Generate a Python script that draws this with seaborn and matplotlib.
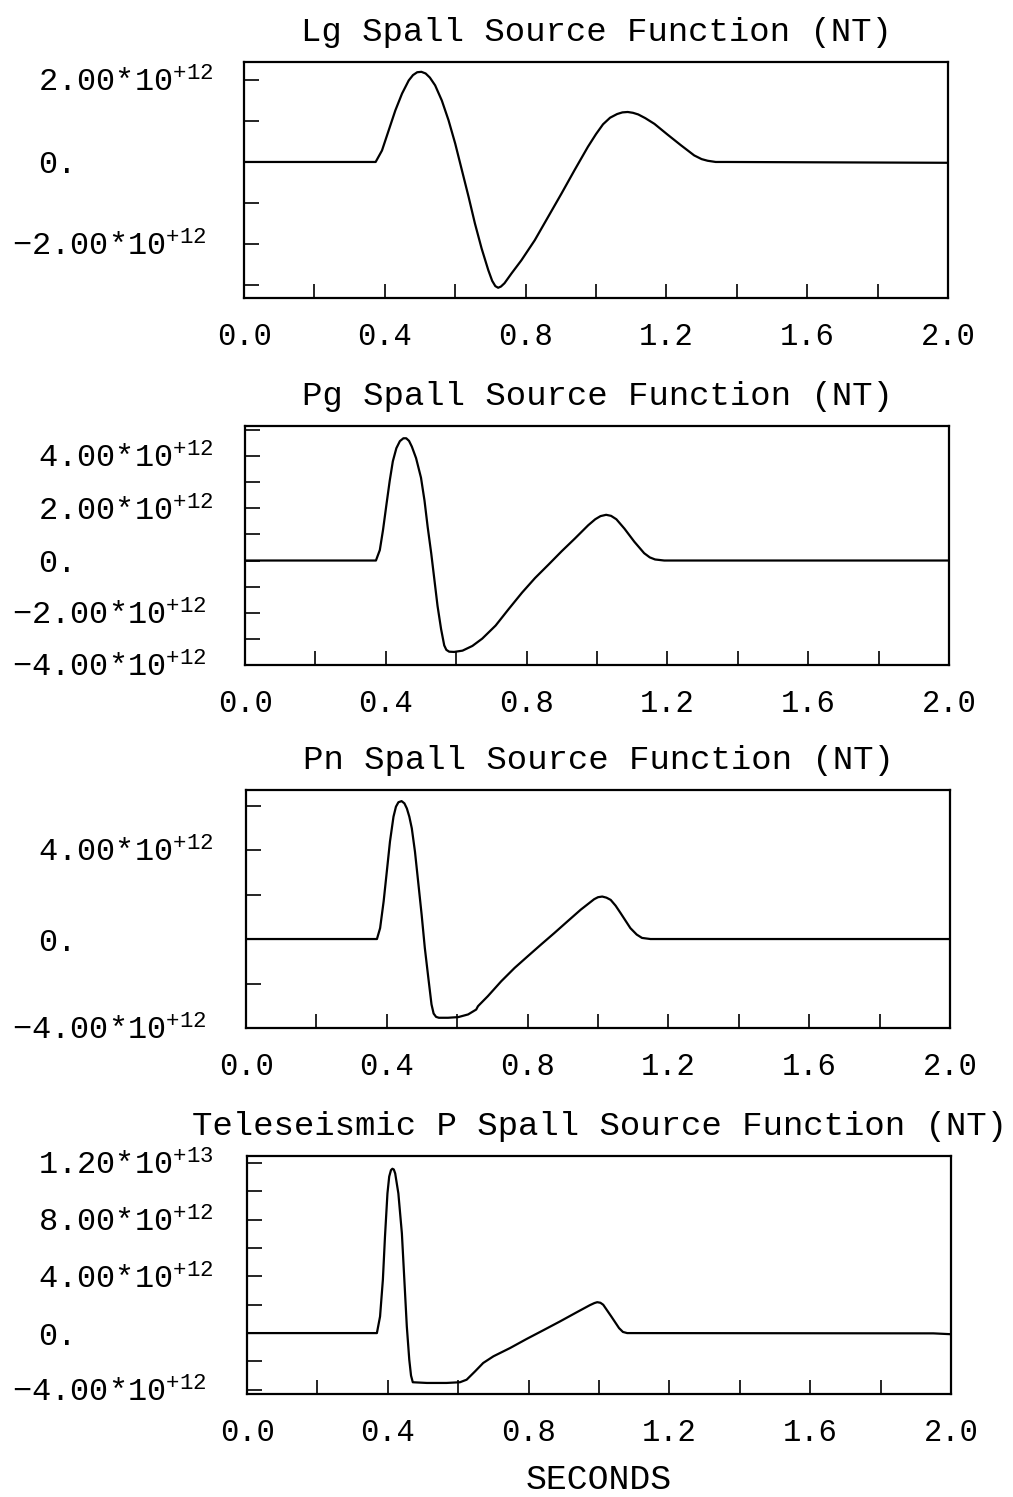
import numpy as np
import matplotlib
matplotlib.use("Agg")
import matplotlib.pyplot as plt
import seaborn as sns

# time axis values (seconds) and amplitudes (units of 1e12)
lg_t = [0.0, 0.374, 0.392, 0.411, 0.430, 0.449, 0.468, 0.480, 0.492, 0.504, 0.516, 0.528,
        0.543, 0.562, 0.581, 0.600, 0.619, 0.638, 0.656, 0.675, 0.694, 0.705, 0.714, 0.722,
        0.730, 0.740, 0.760, 0.788, 0.826, 0.864, 0.902, 0.939, 0.977, 1.000, 1.020, 1.040,
        1.060, 1.075, 1.090, 1.105, 1.120, 1.140, 1.166, 1.203, 1.241, 1.279, 1.300, 1.317,
        1.340, 1.370, 2.0]
lg_amp = [0.0, 0.0, 0.28, 0.77, 1.26, 1.67, 1.99, 2.12, 2.19, 2.20, 2.16, 2.06,
          1.87, 1.50, 1.02, 0.45, -0.20, -0.85, -1.50, -2.11, -2.64, -2.90, -3.03, -3.07,
          -3.04, -2.96, -2.72, -2.40, -1.91, -1.34, -0.77, -0.20, 0.37, 0.68, 0.92, 1.08,
          1.17, 1.21, 1.22, 1.20, 1.16, 1.07, 0.93, 0.67, 0.41, 0.16, 0.07, 0.03,
          0.0, 0.0, -0.02]

pg_t = [0.0, 0.372, 0.383, 0.392, 0.402, 0.411, 0.420, 0.430, 0.440, 0.450, 0.458, 0.466,
        0.474, 0.486, 0.500, 0.510, 0.519, 0.529, 0.538, 0.547, 0.557, 0.566, 0.572, 0.580,
        0.594, 0.618, 0.646, 0.674, 0.712, 0.749, 0.787, 0.824, 0.862, 0.900, 0.937, 0.975,
        0.995, 1.010, 1.026, 1.040, 1.055, 1.078, 1.106, 1.134, 1.150, 1.165, 1.191, 2.0]
pg_amp = [0.0, 0.0, 0.40, 1.16, 2.16, 3.04, 3.80, 4.30, 4.57, 4.68, 4.68, 4.58,
          4.36, 3.92, 3.17, 2.29, 1.28, 0.28, -0.73, -1.74, -2.62, -3.25, -3.42, -3.49,
          -3.50, -3.45, -3.27, -2.99, -2.49, -1.86, -1.23, -0.67, -0.16, 0.36, 0.84, 1.35,
          1.58, 1.70, 1.75, 1.71, 1.58, 1.22, 0.72, 0.28, 0.12, 0.04, 0.0, 0.0]

pn_t = [0.0, 0.372, 0.381, 0.391, 0.400, 0.409, 0.419, 0.426, 0.433, 0.442, 0.450, 0.457,
        0.464, 0.471, 0.480, 0.489, 0.499, 0.508, 0.518, 0.527, 0.533, 0.540, 0.548, 0.574,
        0.603, 0.631, 0.654, 0.659, 0.687, 0.725, 0.763, 0.800, 0.838, 0.876, 0.913, 0.951,
        0.989, 1.000, 1.012, 1.024, 1.036, 1.050, 1.064, 1.092, 1.110, 1.125, 1.149, 2.0]
pn_amp = [0.0, 0.0, 0.49, 1.69, 3.03, 4.38, 5.50, 5.95, 6.15, 6.20, 6.10, 5.87,
          5.50, 4.98, 3.93, 2.59, 1.09, -0.40, -1.75, -2.94, -3.35, -3.50, -3.54, -3.54,
          -3.51, -3.39, -3.17, -3.02, -2.57, -1.90, -1.30, -0.78, -0.25, 0.27, 0.79, 1.32,
          1.79, 1.88, 1.91, 1.86, 1.76, 1.50, 1.17, 0.49, 0.20, 0.05, 0.0, 0.0]

tp_t = [0.0, 0.369, 0.378, 0.386, 0.392, 0.399, 0.404, 0.409, 0.413, 0.417, 0.421, 0.430,
        0.440, 0.447, 0.454, 0.461, 0.466, 0.471, 0.511, 0.567, 0.605, 0.624, 0.648, 0.671,
        0.700, 0.747, 0.794, 0.841, 0.889, 0.936, 0.974, 0.987, 0.995, 1.004, 1.012, 1.035,
        1.057, 1.068, 1.080, 1.95, 2.0]
tp_amp = [0.0, 0.0, 1.17, 3.76, 6.81, 9.86, 11.05, 11.50, 11.60, 11.55, 11.27, 9.86,
          7.04, 3.76, 0.47, -1.88, -3.00, -3.47, -3.52, -3.52, -3.47, -3.29, -2.70, -2.11,
          -1.64, -1.06, -0.42, 0.19, 0.82, 1.46, 1.97, 2.12, 2.18, 2.14, 2.00, 1.17,
          0.35, 0.08, 0.0, -0.02, -0.08]

titles = ["Lg Spall Source Function (NT)", "Pg Spall Source Function (NT)",
          "Pn Spall Source Function (NT)", "Teleseismic P Spall Source Function (NT)"]

# y ticks (1e12 units) and which of them carry a label
lg_yticks = [-3, -2, -1, 0, 1, 2]
lg_ylabels = ["", "−2.00*10$^{+12}$", "", "0.", "", "2.00*10$^{+12}$"]
pg_yticks = [-4, -3, -2, -1, 0, 1, 2, 3, 4, 5]
pg_ylabels = ["−4.00*10$^{+12}$", "", "−2.00*10$^{+12}$", "", "0.", "", "2.00*10$^{+12}$", "",
              "4.00*10$^{+12}$", ""]
pn_yticks = [-4, -2, 0, 2, 4, 6]
pn_ylabels = ["−4.00*10$^{+12}$", "", "0.", "", "4.00*10$^{+12}$", ""]
tp_yticks = [-4, -2, 0, 2, 4, 6, 8, 10, 12]
tp_ylabels = ["−4.00*10$^{+12}$", "", "0.", "", "4.00*10$^{+12}$", "", "8.00*10$^{+12}$", "",
              "1.20*10$^{+13}$"]

ylims = [(-3.32, 2.44), (-4.0, 5.15), (-4.0, 6.7), (-4.3, 12.5)]

xticks = [0.0, 0.2, 0.4, 0.6, 0.8, 1.0, 1.2, 1.4, 1.6, 1.8, 2.0]
xlabels = ["0.0", "", "0.4", "", "0.8", "", "1.2", "", "1.6", "", "2.0"]

sns.set_theme(style="ticks")
plt.rcParams["font.family"] = ["Liberation Mono", "DejaVu Sans Mono"]
plt.rcParams["mathtext.fontset"] = "custom"
plt.rcParams["mathtext.rm"] = "Liberation Mono"
plt.rcParams["mathtext.default"] = "regular"
plt.rcParams["text.color"] = "black"
plt.rcParams["axes.labelcolor"] = "black"
plt.rcParams["xtick.color"] = "black"
plt.rcParams["ytick.color"] = "black"

fig = plt.figure(figsize=(10.13, 14.97), dpi=100)
W, H = 1013.0, 1497.0
# axes boxes in pixels: left, top, right, bottom
boxes = [(244, 62, 948, 298), (245, 426, 949, 665), (246, 790, 950, 1028), (247, 1156, 951, 1394)]

series = [(lg_t, lg_amp, lg_yticks, lg_ylabels),
          (pg_t, pg_amp, pg_yticks, pg_ylabels),
          (pn_t, pn_amp, pn_yticks, pn_ylabels),
          (tp_t, tp_amp, tp_yticks, tp_ylabels)]

for i, (t, amp, yt, yl) in enumerate(series):
    l, tp, r, b = boxes[i]
    ax = fig.add_axes([l / W, 1 - b / H, (r - l) / W, (b - tp) / H])
    sns.lineplot(x=np.array(t), y=np.array(amp) * 1e12, ax=ax, color="black", lw=1.6)
    ax.set_xlim(0, 2.0)
    ax.set_ylim(ylims[i][0] * 1e12, ylims[i][1] * 1e12)
    ax.set_xticks(xticks, xlabels)
    ax.set_yticks(np.array(yt) * 1e12, yl)
    ax.tick_params(axis="x", direction="in", length=10, width=1.2, pad=17, labelsize=22)
    ax.tick_params(axis="y", direction="in", length=11, width=1.2, pad=0, labelsize=23)
    for s in ax.spines.values():
        s.set_linewidth(1.6)
        s.set_color("black")
    # left-aligned y labels, the minus sign hanging out to the left
    width_px = r - l
    for lab in ax.get_yticklabels():
        lab.set_horizontalalignment("left")
        if lab.get_text().startswith("−"):
            lab.set_x(-(l - 12) / width_px)
        else:
            lab.set_x(-(l - 38) / width_px)
    ax.set_title(titles[i], fontsize=24.5, pad=15, color="black")
    ax.set_ylabel("")
    if i == 3:
        ax.set_xlabel("SECONDS", fontsize=25, labelpad=11, color="black")
    else:
        ax.set_xlabel("")

fig.savefig("out.png", dpi=100, facecolor="white")
